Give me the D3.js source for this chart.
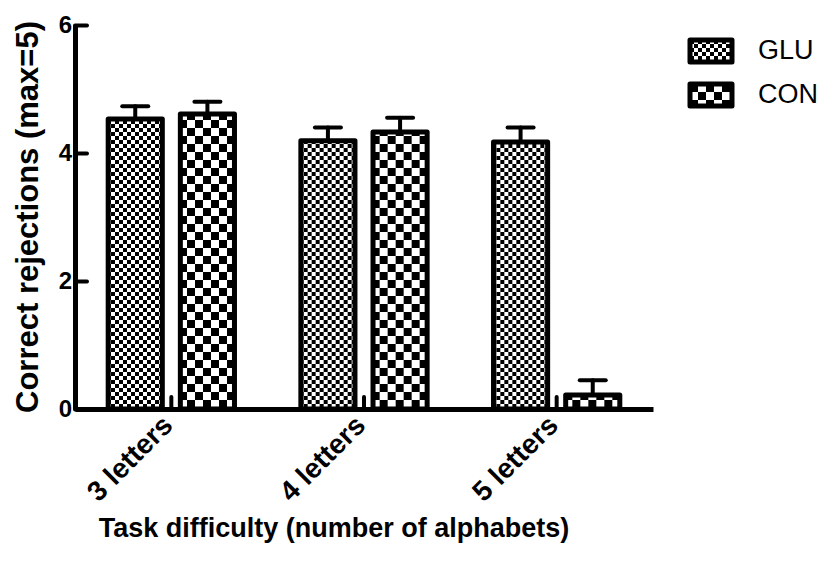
<!DOCTYPE html>
<html>
<head>
<meta charset="utf-8">
<script src="https://cdn.jsdelivr.net/npm/d3@7"></script>
<style>
  body { margin: 0; background: #fff; }
  text { font-family: "Liberation Sans", Arial, sans-serif; }
</style>
</head>
<body>
<svg id="chart"></svg>
<script>
const width = 826, height = 570;

// donnees
const categories = ["3 letters", "4 letters", "5 letters"];
const series = ["GLU", "CON"];
const gluMeans = [4.53, 4.19, 4.17];
const gluErr = [0.20, 0.21, 0.23];
const conMeans = [4.61, 4.33, 0.22];
const conErr = [0.19, 0.22, 0.23];
const yTicks = [0, 2, 4, 6];

const svg = d3.select("#chart")
    .attr("width", width)
    .attr("height", height);

// motifs damier
const defs = svg.append("defs");
function checker(id, s) {
    const p = defs.append("pattern")
        .attr("id", id)
        .attr("patternUnits", "userSpaceOnUse")
        .attr("width", s * 2).attr("height", s * 2);
    p.append("rect").attr("width", s * 2).attr("height", s * 2).attr("fill", "#fff");
    p.append("rect").attr("width", s).attr("height", s).attr("fill", "#000");
    p.append("rect").attr("x", s).attr("y", s).attr("width", s).attr("height", s).attr("fill", "#000");
}
checker("pGLU", 4);
checker("pCON", 8);

const x0 = d3.scaleBand().domain(categories).range([75, 653]);
const x1 = d3.scaleBand().domain(series).range([0, x0.bandwidth()])
    .paddingInner(0.25).paddingOuter(0.46);
const y = d3.scaleLinear().domain([0, 6]).range([409, 25]);

const rows = categories.map((c, i) => ({
    cat: c,
    vals: [
        { s: "GLU", v: gluMeans[i], e: gluErr[i] },
        { s: "CON", v: conMeans[i], e: conErr[i] }
    ]
}));

const groups = svg.selectAll(".grp")
    .data(rows)
    .enter().append("g")
    .attr("class", "grp")
    .attr("transform", d => `translate(${x0(d.cat)},0)`);

// barres d'erreur (au-dessus seulement)
const eb = groups.selectAll(".err")
    .data(d => d.vals)
    .enter().append("g")
    .attr("class", "err")
    .attr("stroke", "#000")
    .attr("stroke-width", 4)
    .attr("stroke-linecap", "round");
eb.append("line")
    .attr("x1", d => x1(d.s) + x1.bandwidth() / 2)
    .attr("x2", d => x1(d.s) + x1.bandwidth() / 2)
    .attr("y1", d => y(d.v))
    .attr("y2", d => y(d.v + d.e));
eb.append("line")
    .attr("x1", d => x1(d.s) + x1.bandwidth() / 2 - 13)
    .attr("x2", d => x1(d.s) + x1.bandwidth() / 2 + 13)
    .attr("y1", d => y(d.v + d.e))
    .attr("y2", d => y(d.v + d.e));

groups.selectAll(".bar")
    .data(d => d.vals)
    .enter().append("rect")
    .attr("class", "bar")
    .attr("x", d => x1(d.s))
    .attr("y", d => y(d.v))
    .attr("width", x1.bandwidth())
    .attr("height", d => y(0) - y(d.v))
    .attr("fill", d => `url(#p${d.s})`)
    .attr("stroke", "#000")
    .attr("stroke-width", 5)
    .attr("stroke-linejoin", "round");

// axe Y
const yAxis = svg.append("g")
    .attr("transform", "translate(75,0)")
    .call(d3.axisLeft(y).tickValues(yTicks).tickFormat(d3.format("d"))
        .tickSizeInner(-12).tickSizeOuter(0).tickPadding(3));
yAxis.select(".domain").attr("stroke-width", 5);
yAxis.selectAll(".tick line").attr("stroke-width", 4).attr("stroke-linecap", "round");
yAxis.selectAll(".tick text")
    .style("font-size", "24px").style("font-weight", "bold").attr("fill", "#000");

// axe X
const xAxis = svg.append("g")
    .attr("transform", "translate(0,409)")
    .call(d3.axisBottom(x0).tickSizeInner(-12).tickSizeOuter(0).tickPadding(0));
xAxis.select(".domain").attr("stroke-width", 5);
xAxis.selectAll(".tick line").attr("stroke-width", 4).attr("stroke-linecap", "round");
xAxis.selectAll(".tick text")
    .style("font-size", "28px").style("font-weight", "bold").attr("fill", "#000")
    .attr("text-anchor", "end")
    .attr("dy", 0)
    .attr("transform", "translate(3,18) rotate(-45)");

// titres des axes
svg.append("text")
    .attr("x", 334).attr("y", 537)
    .attr("text-anchor", "middle")
    .attr("font-size", 27).attr("font-weight", "bold")
    .text("Task difficulty (number of alphabets)");

svg.append("text")
    .attr("transform", "translate(38,217) rotate(-90)")
    .attr("text-anchor", "middle")
    .attr("font-size", 31).attr("font-weight", "bold")
    .text("Correct rejections (max=5)");

// legende
const leg = svg.selectAll(".leg")
    .data(series)
    .enter().append("g")
    .attr("class", "leg")
    .attr("transform", (d, i) => `translate(690,${40 + i * 44})`);
leg.append("rect")
    .attr("width", 42).attr("height", 22)
    .attr("fill", d => `url(#p${d})`)
    .attr("stroke", "#000").attr("stroke-width", 5)
    .attr("stroke-linejoin", "round");
leg.append("text")
    .attr("x", 68).attr("y", 19)
    .attr("font-size", 27)
    .text(d => d);
</script>
</body>
</html>
